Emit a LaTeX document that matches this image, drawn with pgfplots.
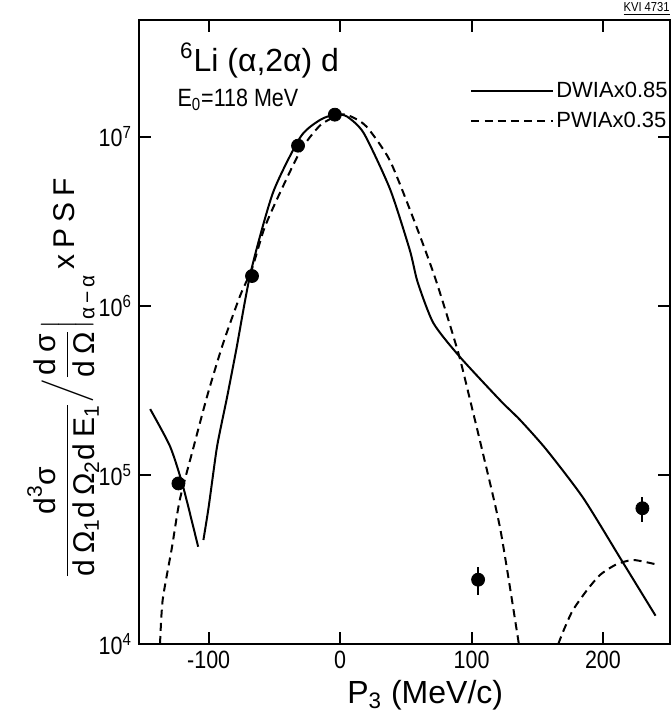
\documentclass[border=0pt]{standalone}
\usepackage{amsmath}
\usepackage{fontspec}
\setmainfont{Liberation Sans}[FakeStretch=0.86]
\newfontfamily\widefont{Liberation Sans}
\newfontfamily\ylabfont{Liberation Sans}[LetterSpace=20]
\usepackage{pgfplots}
\pgfplotsset{compat=1.18}

\begin{document}
\begin{tikzpicture}
\begin{axis}[
    name=ax,
    scale only axis,
    width=265.5pt, height=312pt,
    ymode=log,
    xmin=-153, xmax=251,
    ymin=1e4, ymax=4.9e7,
    xtick={-100,0,100,200},
    ytick={1e4,1e5,1e6,1e7},
    yticklabels={10\textsuperscript{4},10\textsuperscript{5},10\textsuperscript{6},10\textsuperscript{7}},
    yminorticks=false,
    major tick length=6pt,
    every tick/.style={black, line width=1pt},
    axis line style={line width=1pt},
    /pgf/number format/assume math mode=true,
    ticklabel style={font=\fontsize{12.5}{14}\selectfont},
    xlabel={P\textsubscript{3} (MeV/c)},
    xlabel style={font=\widefont\fontsize{16}{18}\selectfont, at={(axis description cs:0.539,-0.0946)}, anchor=base},
    ylabel={$\displaystyle\frac{\text{d}^{\text{3}}\text{σ}}{\text{dΩ}_{\text{1}}\text{dΩ}_{\text{2}}\text{dE}_{\text{1}}}\Big/\frac{\text{dσ}}{\text{dΩ}}\Big|_{\text{α−α}}\,\text{xPSF}$},
    ylabel style={font=\ylabfont\fontsize{15}{17}\selectfont, at={(axis description cs:-0.143,0.426)}, anchor=center},
    legend style={at={(rel axis cs:1,0.905)}, anchor=north east, draw=none, fill=none,
        font=\widefont\fontsize{11}{13}\selectfont, inner sep=0pt, row sep=4pt,
        nodes={inner sep=1pt}},
    legend cell align=left,
    legend image code/.code={\draw[#1] (0pt,0pt) -- (41pt,0pt);},
    clip=false,
]

% DWIA x 0.85 (solid), left branch
\addplot[black, line width=1pt, smooth, tension=0.4, forget plot] coordinates {
    (-144.5,2.45e5) (-129.3,1.47e5) (-119.4,8.5e4) (-108,3.76e4)
};
% DWIA x 0.85 (solid), main branch
\addplot[black, line width=1pt, smooth, tension=0.4] coordinates {
    (-104,4.12e4) (-100,6.46e4) (-94,1.41e5) (-90,2.04e5) (-86,2.88e5)
    (-79,5.5e5) (-68,1.58e6) (-51,4.68e6) (-30,1.0e7) (-15,1.26e7)
    (-4,1.35e7) (5,1.32e7) (18,1.05e7) (38,4.9e6) (53,2.14e6)
    (59,1.38e6) (71,7.9e5) (91,5.0e5) (122,2.75e5) (137,2.11e5)
    (157,1.41e5) (185,7.3e4) (214,3.14e4) (240,1.47e4)
};
\addlegendentry{DWIAx0.85}
% PWIA x 0.35 (dashed)
\addplot[black, line width=1pt, dash pattern=on 4pt off 2.6pt, smooth, tension=0.4] coordinates {
    (-137,1.0e4) (-135,1.82e4) (-128,3.7e4) (-122,7.1e4) (-112,1.41e5)
    (-101,2.95e5) (-89,6.0e5) (-76,1.15e6) (-67,1.66e6) (-58,2.82e6)
    (-48,4.27e6) (-30,8.3e6) (-15,1.17e7) (0,1.35e7) (8,1.32e7) (20,1.15e7)
    (38,7.2e6) (58,2.95e6) (73,1.41e6) (90,5.25e5) (99,2.75e5)
    (108,1.41e5) (122,4.73e4) (136,1.0e4)
};
\addlegendentry{PWIAx0.35}
\addplot[black, line width=1pt, dash pattern=on 4pt off 2.6pt, smooth, tension=0.4, forget plot] coordinates {
    (166,1.0e4) (170,1.2e4) (177,1.58e4) (188,2.09e4) (198,2.57e4)
    (210,2.95e4) (223,3.14e4) (241,2.95e4)
};
% data
\addplot[only marks, mark=*, mark size=3.25pt, black, forget plot] coordinates {
    (-123,8.9e4) (-67,1.5e6) (-32,8.85e6) (-4,1.35e7)
};
\addplot[only marks, mark=*, mark size=3.25pt, black, forget plot,
    error bars/.cd, y dir=both, y explicit, error mark=none,
    error bar style={line width=1pt}] coordinates {
    (105,2.4e4) +- (0,4500)
    (230,6.35e4) +- (0,1.1e4)
};

\node[anchor=base west, inner sep=0pt, font=\widefont\fontsize{16}{18}\selectfont]
    at (axis cs:-122,2.43e7) {\textsuperscript{6}Li (α,2α) d};
\node[anchor=base west, inner sep=0pt, font=\fontsize{12.5}{14}\selectfont]
    at (axis cs:-124,1.51e7) {E\textsubscript{0}=118 MeV};
\node[anchor=base east, inner sep=0pt, yshift=4pt, font=\fontsize{6.5}{7}\selectfont]
    at (rel axis cs:1,1) {\underline{KVI 4731}};
\end{axis}
\pgfresetboundingbox
\path ([xshift=-69.5pt,yshift=-35pt]ax.south west) rectangle ([xshift=0.5pt,yshift=10pt]ax.north east);
\end{tikzpicture}
\end{document}
